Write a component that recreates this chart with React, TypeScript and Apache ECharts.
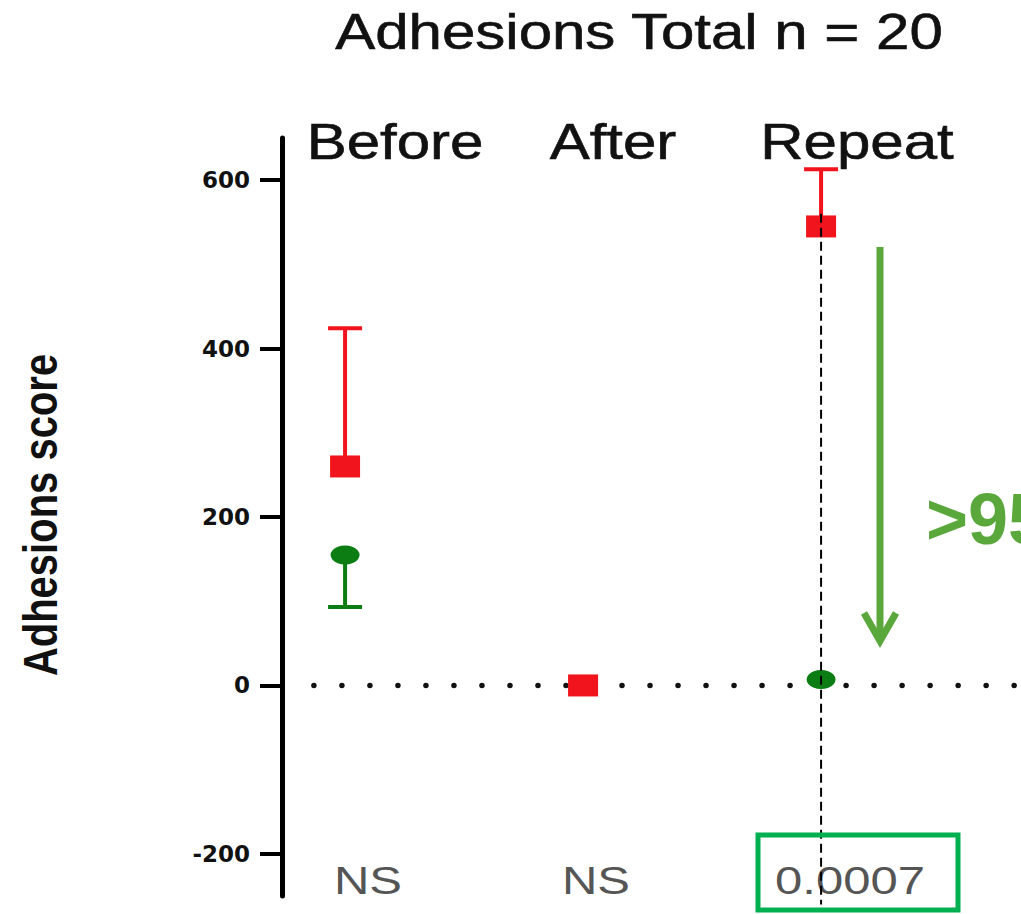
import React, { useEffect, useRef } from 'react';
import * as echarts from 'echarts';

const categories = ['Before', 'After', 'Repeat'];
const categoryX = [1, 2, 3];
const redMean = [260, 0, 545];
const redUpper: (number | null)[] = [424, null, 613];
const greenMean = [155, 0, 7];
const greenLower: (number | null)[] = [93, null, null];
const pValues = ['NS', 'NS', '0.0007'];
const yTicks = [-200, 0, 200, 400, 600];
const chartTitle = 'Adhesions Total n = 20';
const yName = 'Adhesions score';
const reductionText = '>95%';

const headerPx = [395, 613, 857];
const pValuePx = [368, 596, 850];

const RED = '#f2141c';
const GREEN = '#0b7d12';
const ANNOT_GREEN = '#5aa83c';
const FONT = '"Liberation Sans", Arial, sans-serif';

export default function App() {
  const ref = useRef<HTMLDivElement>(null);
  useEffect(() => {
    if (!ref.current) return;
    const chart = echarts.init(ref.current, undefined, { renderer: 'svg' });

    const errRender = (color: string) => (params: any, api: any) => {
      const p0 = api.coord([api.value(0), api.value(1)]);
      const p1 = api.coord([api.value(0), api.value(2)]);
      const half = 17;
      return {
        type: 'group',
        children: [
          { type: 'line', shape: { x1: p0[0], y1: p0[1], x2: p1[0], y2: p1[1] }, style: { stroke: color, lineWidth: 4 } },
          { type: 'line', shape: { x1: p1[0] - half, y1: p1[1], x2: p1[0] + half, y2: p1[1] }, style: { stroke: color, lineWidth: 4 } },
        ],
      };
    };

    const redErr = categoryX
      .map((x, i) => (redUpper[i] == null ? null : [x, redMean[i], redUpper[i]]))
      .filter(Boolean);
    const greenErr = categoryX
      .map((x, i) => (greenLower[i] == null ? null : [x, greenMean[i], greenLower[i]]))
      .filter(Boolean);

    const graphic: any[] = [
      {
        type: 'text', x: 639, y: 32, scaleX: 1.2,
        style: { text: chartTitle, font: `50px ${FONT}`, fill: '#111', stroke: '#111', lineWidth: 0.6, textAlign: 'center', textVerticalAlign: 'middle' },
      },
      {
        type: 'text', x: 40, y: 515, rotation: Math.PI / 2, scaleY: 1.18,
        style: { text: yName, font: `bold 40px ${FONT}`, fill: '#111', textAlign: 'center', textVerticalAlign: 'middle' },
      },
      ...categories.map((c, i) => ({
        type: 'text', x: headerPx[i], y: 142, scaleX: 1.2,
        style: { text: c, font: `50px ${FONT}`, fill: '#111', stroke: '#111', lineWidth: 0.6, textAlign: 'center', textVerticalAlign: 'middle' },
      })),
      ...pValues.map((p, i) => ({
        type: 'text', x: pValuePx[i], y: 881, scaleX: 1.29,
        style: { text: p, font: `38px ${FONT}`, fill: '#555', textAlign: 'center', textVerticalAlign: 'middle' },
      })),
      {
        type: 'rect', shape: { x: 758, y: 835, width: 200, height: 75 },
        style: { fill: 'none', stroke: '#00b050', lineWidth: 5 }, z: 10,
      },
      {
        type: 'line', shape: { x1: 880, y1: 247, x2: 880, y2: 640 },
        style: { stroke: ANNOT_GREEN, lineWidth: 7 }, z: 10,
      },
      {
        type: 'polyline', shape: { points: [[864, 613], [880, 641], [896, 613]] },
        style: { stroke: ANNOT_GREEN, lineWidth: 7, fill: 'none', lineJoin: 'miter' }, z: 10,
      },
      {
        type: 'text', x: 926, y: 519,
        style: { text: reductionText, font: `bold 72px ${FONT}`, fill: ANNOT_GREEN, textAlign: 'left', textVerticalAlign: 'middle' }, z: 10,
      },
    ];

    chart.setOption({
      animation: false,
      backgroundColor: '#fff',
      grid: { left: 282, top: 138, width: 739, height: 758 },
      xAxis: { type: 'value', min: 0.735, max: 3.84, show: false },
      yAxis: {
        type: 'value', min: -250, max: 650,
        splitLine: { show: false },
        axisLine: { show: true, lineStyle: { color: '#000', width: 5 } },
        axisTick: { show: true, length: 22, customValues: yTicks, lineStyle: { color: '#000', width: 4 } },
        axisLabel: {
          show: true, customValues: yTicks, margin: 32,
          fontFamily: '"DejaVu Sans", sans-serif', fontWeight: 'bold', fontSize: 23, color: '#111',
        },
      },
      graphic,
      series: [
        {
          type: 'line', silent: true, clip: false, showSymbol: false, symbol: 'none',
          data: [[0.869, 0], [3.84, 0]],
          lineStyle: { color: '#111', width: 5.5, type: [0.01, 28], cap: 'round' }, z: 1,
        },
        {
          type: 'custom', renderItem: errRender(RED), data: redErr,
          encode: { x: 0, y: [1, 2] }, z: 2, clip: false,
        },
        {
          type: 'custom', renderItem: errRender(GREEN), data: greenErr,
          encode: { x: 0, y: [1, 2] }, z: 2, clip: false,
        },
        {
          type: 'scatter', symbol: 'circle', symbolSize: [29, 19],
          data: categoryX.map((x, i) => [x, greenMean[i]]),
          itemStyle: { color: GREEN, opacity: 1 }, z: 3,
        },
        {
          type: 'scatter', symbol: 'rect', symbolSize: [30, 22],
          data: categoryX.map((x, i) => [x, redMean[i]]),
          itemStyle: { color: RED, opacity: 1 }, z: 4,
        },
        {
          type: 'line', silent: true, clip: false, showSymbol: false, symbol: 'none',
          data: [[3, 560], [3, -260]],
          lineStyle: { color: '#000', width: 2, type: [9, 5] }, z: 5,
        },
      ],
    });
    return () => chart.dispose();
  }, []);
  return <div ref={ref} style={{ position: 'fixed', left: 0, top: 0, width: 1021, height: 914 }} />;
}
